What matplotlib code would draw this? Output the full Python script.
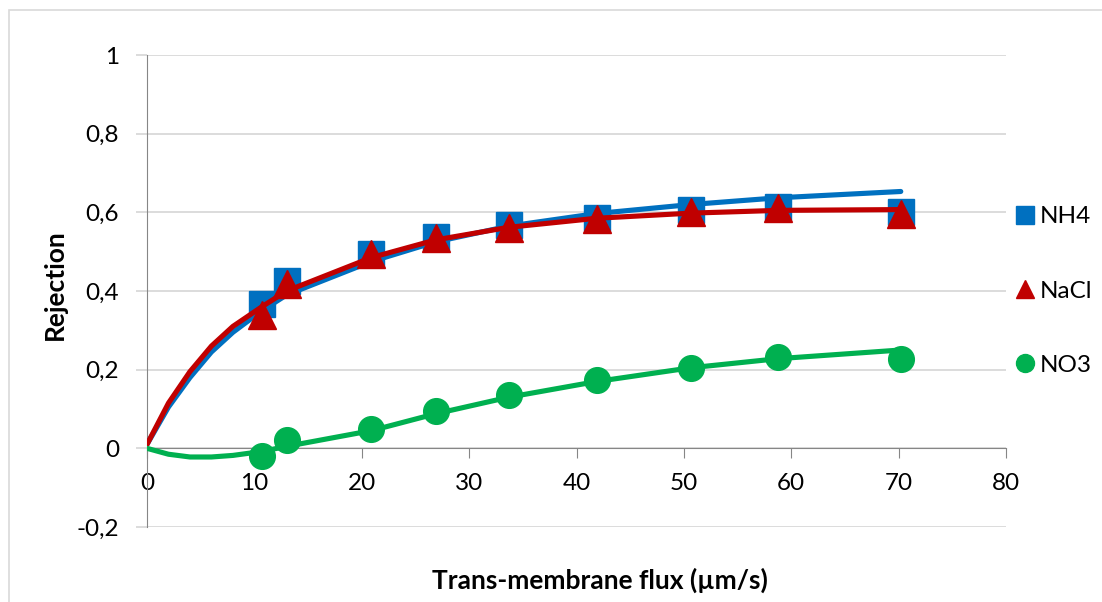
import matplotlib
matplotlib.use('Agg')
import matplotlib.pyplot as plt
from matplotlib.patches import Rectangle

plt.rcParams['font.family'] = ['Lato', 'DejaVu Sans']

# measured points
flux = [10.7, 13.0, 20.9, 26.9, 33.7, 41.9, 50.7, 58.8, 70.2]
nh4 = [0.368, 0.425, 0.493, 0.537, 0.567, 0.585, 0.605, 0.613, 0.600]
nacl = [0.340, 0.418, 0.493, 0.534, 0.559, 0.584, 0.600, 0.610, 0.597]
no3 = [-0.020, 0.022, 0.049, 0.095, 0.135, 0.173, 0.205, 0.232, 0.226]

# model curves
model_flux = [0, 2, 4, 6, 8, 10.7, 13.0, 20.9, 26.9, 33.7, 41.9, 50.7, 58.8, 70.2]
nh4_model = [0.010, 0.105, 0.180, 0.245, 0.295, 0.350, 0.390, 0.475, 0.525,
             0.565, 0.597, 0.620, 0.637, 0.653]
nacl_model = [0.010, 0.115, 0.195, 0.260, 0.310, 0.360, 0.400, 0.485, 0.530,
              0.562, 0.585, 0.598, 0.605, 0.607]
no3_model = [0.000, -0.015, -0.022, -0.022, -0.018, -0.008, 0.005, 0.045, 0.088,
             0.130, 0.170, 0.205, 0.228, 0.250]

y_ticks = [-0.2, 0, 0.2, 0.4, 0.6, 0.8, 1]
y_tick_labels = ['-0,2', '0', '0,2', '0,4', '0,6', '0,8', '1']
x_ticks = [0, 10, 20, 30, 40, 50, 60, 70, 80]

blue = '#0070c0'
red = '#c00000'
green = '#00b050'

fig = plt.figure(figsize=(11.02, 6.02), dpi=100)
fig.patches.append(Rectangle((9 / 1102, -0.1), 1.2, 1.1 - 10 / 602,
                             transform=fig.transFigure, fill=False,
                             edgecolor='#d9d9d9', linewidth=1.2))
ax = fig.add_axes([147 / 1102, 1 - 527 / 602, 859 / 1102, 472 / 602])

ax.plot(model_flux, nh4_model, color=blue, lw=3.7, solid_capstyle='round', zorder=3)
ax.plot(flux, nh4, 's', color=blue, ms=18.5, label='NH4', zorder=3)
ax.plot(model_flux, nacl_model, color=red, lw=3.7, solid_capstyle='round', zorder=4)
ax.plot(flux, nacl, '^', color=red, ms=19.5, label='NaCl', zorder=4)
ax.plot(model_flux, no3_model, color=green, lw=3.7, solid_capstyle='round', zorder=5)
ax.plot(flux, no3, 'o', color=green, ms=18.5, label='NO3', zorder=5)

ax.set_xlim(0, 80)
ax.set_ylim(-0.2, 1)
ax.set_yticks(y_ticks)
ax.set_yticklabels(y_tick_labels)
ax.set_xticks(x_ticks)

ax.grid(axis='y', color='#d9d9d9', lw=1.3)
ax.set_axisbelow(True)
for s in ['top', 'right']:
    ax.spines[s].set_visible(False)
ax.spines['left'].set_color('#868686')
ax.spines['bottom'].set_color('#868686')
ax.spines['bottom'].set_position(('data', 0))
ax.tick_params(axis='y', length=8, color='#d9d9d9', width=1.3, pad=12, labelsize=17.5)
ax.tick_params(axis='x', direction='out', length=7, color='#868686', pad=11, labelsize=17.5)

ax.set_xlabel('Trans-membrane flux (µm/s)', fontsize=19, fontweight='bold')
ax.xaxis.set_label_coords((600 - 147) / 859, (527 - 580) / 472)
ax.xaxis.label.set_va('center')
ax.set_ylabel('Rejection', fontsize=19, fontweight='bold')
ax.yaxis.set_label_coords((55 - 147) / 859, (527 - 285) / 472)
ax.yaxis.label.set_va('center')

handles, labels = ax.get_legend_handles_labels()
leg = fig.legend(handles, labels, loc='center left',
                 bbox_to_anchor=(995 / 1102, 1 - 291 / 602),
                 frameon=False, fontsize=17.5, markerscale=0.7,
                 handlelength=0.7, handletextpad=0.25, labelspacing=2.2)

fig.savefig('out.png', dpi=100)
